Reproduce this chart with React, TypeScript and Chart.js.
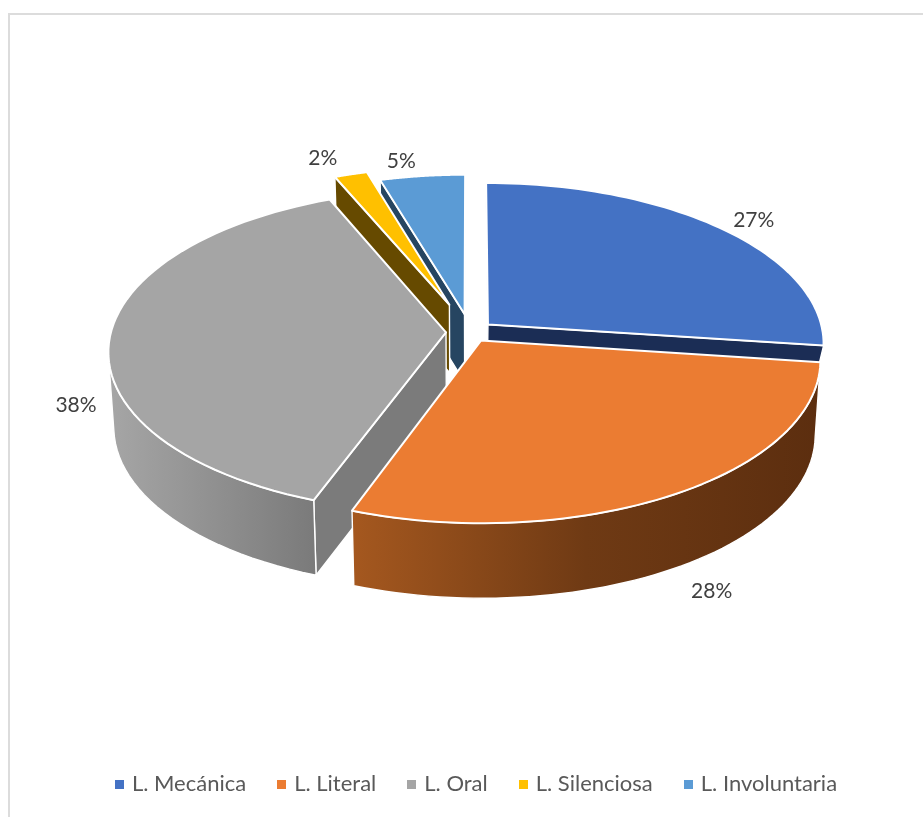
import React, { useEffect, useRef } from "react";
import { Chart, registerables } from "chart.js";

Chart.register(...registerables);

const categories = ["L. Mecánica", "L. Literal", "L. Oral", "L. Silenciosa", "L. Involuntaria"];
const values = [27.1, 28.49, 38.0, 1.8, 4.6];
const explode = [24, 21, 24, 62, 38];
const topColors = ["#4472C4", "#EB7C32", "#A5A5A5", "#FFC000", "#5B9BD5"];
const cutColors = ["#1B2D55", "#7A4015", "#7B7B7B", "#664A00", "#264561"];
const wallLeft = ["#1F3864", "#A5581F", "#A6A6A6", "#664A00", "#264561"];
const wallMid = ["#1F3864", "#6F3A14", "#8F8F8F", "#664A00", "#264561"];
const wallRight = ["#1F3864", "#5C2E0F", "#777777", "#664A00", "#264561"];
const paintOrder = [4, 0, 3, 2, 1];
const depths = [22, 75, 75, 68, 68];
const labelNudgeX = [34, 36, -34, -28, -21];
const labelNudgeY = [-8, 97, 69, -16, -15];

const CX = 470;
const CY = 332;
const RX = 335;
const RY = 159.5;
const K = 0.115;
const BOTTOM_SCALE = 0.985;

type Pt = { x: number; y: number };

function project(u: number, v: number): Pt {
  const s = 1 / (1 - K * v);
  return { x: CX + RX * u * s, y: CY + RY * v * s };
}

function lower(p: Pt, depth: number): Pt {
  return { x: CX + (p.x - CX) * BOTTOM_SCALE, y: p.y + depth };
}

function poly(ctx: CanvasRenderingContext2D, pts: Pt[], fill: any, stroke: string, lw: number) {
  ctx.beginPath();
  pts.forEach((p, i) => (i ? ctx.lineTo(p.x, p.y) : ctx.moveTo(p.x, p.y)));
  ctx.closePath();
  ctx.fillStyle = fill;
  ctx.fill();
  ctx.strokeStyle = stroke;
  ctx.lineWidth = lw;
  ctx.lineJoin = "round";
  ctx.stroke();
}

function sliceGeom(arc: any) {
  const p = arc.getProps(["startAngle", "endAngle", "outerRadius"], true);
  const off = (arc.options.offset || 0) / RX;
  const mid = (p.startAngle + p.endAngle) / 2;
  const ox = Math.cos(mid) * off;
  const oy = Math.sin(mid) * off;
  const rim: Pt[] = [];
  const n = 60;
  for (let i = 0; i <= n; i++) {
    const a = p.startAngle + ((p.endAngle - p.startAngle) * i) / n;
    rim.push(project(Math.cos(a) + ox, Math.sin(a) + oy));
  }
  return { apex: project(ox, oy), rim, mid, ox, oy };
}

// a cut face hangs below its top edge; it shows only if the slice's top lies on the other side of that edge
function faceVisible(apex: Pt, edge: Pt, inner: Pt) {
  const ex = edge.x - apex.x;
  const ey = edge.y - apex.y;
  const body = ex * (inner.y - apex.y) - ey * (inner.x - apex.x);
  return body * ex < 0;
}

const pie3dPlugin = {
  id: "pie3d",
  beforeDatasetsDraw(chart: any) {
    const ctx = chart.ctx as CanvasRenderingContext2D;
    const arcs = chart.getDatasetMeta(0).data;
    ctx.save();
    paintOrder.forEach((i) => {
      const g = sliceGeom(arcs[i]);
      const d = depths[i];
      const first = g.rim[0];
      const last = g.rim[g.rim.length - 1];
      const inner = g.rim[Math.floor(g.rim.length / 2)];
      if (faceVisible(g.apex, first, inner)) poly(ctx, [g.apex, first, lower(first, d), lower(g.apex, d)], cutColors[i], "#FFFFFF", 1.4);
      if (faceVisible(g.apex, last, inner)) poly(ctx, [g.apex, last, lower(last, d), lower(g.apex, d)], cutColors[i], "#FFFFFF", 1.4);
      const front = g.rim.filter((q, k) => (k < g.rim.length - 1 ? g.rim[k + 1].x < q.x : g.rim[k - 1].x > q.x));
      if (front.length > 1) {
        const xs = g.rim.map((q) => q.x);
        const grad = ctx.createLinearGradient(Math.min(...xs), 0, Math.max(...xs), 0);
        grad.addColorStop(0, wallLeft[i]);
        grad.addColorStop(0.5, wallMid[i]);
        grad.addColorStop(1, wallRight[i]);
        poly(ctx, [...front, ...front.map((q) => lower(q, d)).reverse()], grad, "#FFFFFF", 1.4);
      }
      poly(ctx, [g.apex, ...g.rim], topColors[i], "#FFFFFF", 2);
    });
    ctx.font = "21px Lato";
    ctx.fillStyle = "#404040";
    ctx.textAlign = "center";
    ctx.textBaseline = "middle";
    const total = values.reduce((a, b) => a + b, 0);
    arcs.forEach((arc: any, i: number) => {
      const g = sliceGeom(arc);
      const q = project(Math.cos(g.mid) + g.ox, Math.sin(g.mid) + g.oy);
      ctx.fillText(`${Math.round((values[i] / total) * 100)}%`, q.x + labelNudgeX[i], q.y + labelNudgeY[i]);
    });
    ctx.restore();
    return false;
  },
};

function marker(color: string) {
  const c = document.createElement("canvas");
  c.width = 9;
  c.height = 9;
  const x = c.getContext("2d")!;
  x.fillStyle = color;
  x.fillRect(0, 0, 9, 9);
  return c;
}

export default function App() {
  const ref = useRef<HTMLCanvasElement>(null);
  useEffect(() => {
    const chart = new Chart(ref.current!, {
      type: "pie",
      data: {
        labels: categories,
        datasets: [{ data: values, backgroundColor: topColors, offset: explode, borderWidth: 0 }],
      },
      options: {
        responsive: false,
        animation: false,
        layout: { padding: { left: 32, bottom: 12 } },
        plugins: {
          tooltip: { enabled: false },
          legend: {
            position: "bottom",
            labels: {
              usePointStyle: true,
              pointStyleWidth: 3,
              boxHeight: 9,
              padding: 34,
              color: "#595959",
              font: { family: "Lato", size: 22 },
              generateLabels(c: any) {
                const base = (Chart as any).overrides.pie.plugins.legend.labels.generateLabels(c);
                return base.map((it: any, i: number) => ({ ...it, pointStyle: marker(topColors[i]) }));
              },
            },
          },
        },
      },
      plugins: [pie3dPlugin as any],
    } as any);
    return () => chart.destroy();
  }, []);
  return (
    <>
      <div style={{ position: "absolute", left: 8, top: 13, width: 915, height: 804, boxSizing: "border-box", borderTop: "2px solid #DCDCDC", borderLeft: "2px solid #DCDCDC" }} />
      <canvas ref={ref} width={923} height={817} style={{ position: "absolute", left: 0, top: 0, display: "block" }} />
    </>
  );
}
